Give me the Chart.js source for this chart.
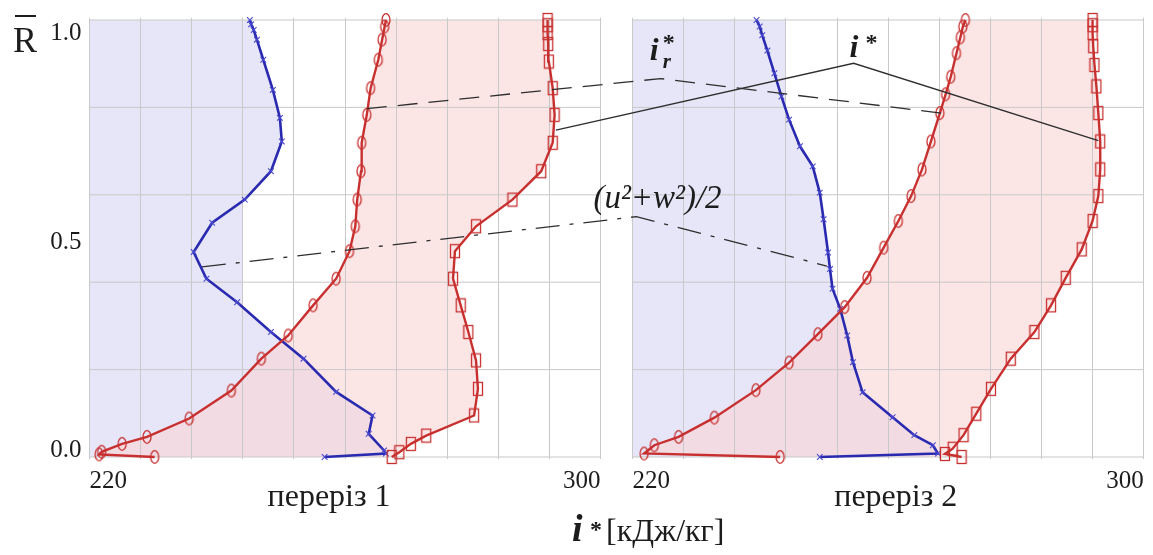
<!DOCTYPE html>
<html>
<head>
<meta charset="utf-8">
<script src="https://cdn.jsdelivr.net/npm/chart.js@4.4.1/dist/chart.umd.min.js"></script>
<style>
  html, body { margin: 0; padding: 0; background: #fff; }
</style>
</head>
<body>
<canvas id="chart" width="1153" height="555"></canvas>
<script>
// Section 2 is drawn on the same x axis, shifted by this many units
const panelOffset = 85;

// переріз 1 : [i*, R]
const kin1 = [[256.8,0],[266.4,0.008],[266.1,0.015],[263.7,0.053],[264.3,0.095],[258.6,0.149],[253.5,0.225],[248.4,0.286],[243.1,0.354],[238.3,0.408],[236.3,0.469],[239.2,0.536],[244.3,0.589],[248.4,0.654],[250.1,0.722],[249.8,0.776],[248.7,0.84],[247.2,0.909],[246.2,0.955],[245.7,0.977],[245.3,0.99],[245.1,1.0]];
const irel1 = [[230.2,0],[221.5,0.006],[221.9,0.012],[225.1,0.030],[229.0,0.046],[235.6,0.088],[242.2,0.152],[246.9,0.225],[251.1,0.278],[255.0,0.347],[258.6,0.408],[260.7,0.471],[261.6,0.528],[261.9,0.589],[262.5,0.654],[262.6,0.719],[263.4,0.783],[264.0,0.844],[265.2,0.909],[265.8,0.955],[266.2,0.985],[266.4,1.0]];
const itot1 = [[267.3,0],[268.5,0.011],[270.3,0.030],[272.7,0.049],[280.2,0.095],[280.8,0.156],[280.5,0.221],[279.3,0.286],[278.1,0.347],[276.9,0.408],[277.2,0.471],[280.5,0.528],[286.2,0.589],[290.7,0.654],[292.5,0.719],[292.8,0.783],[292.5,0.844],[291.9,0.905],[291.8,0.945],[291.7,0.97],[291.7,0.988],[291.7,1.0]];

// переріз 2 : [i*, R]
const kin2 = [[249.3,0],[267.8,0.008],[267.0,0.027],[264.1,0.05],[260.7,0.091],[256.0,0.148],[254.5,0.217],[253.6,0.278],[252.5,0.339],[251.3,0.385],[250.9,0.43],[250.6,0.468],[249.9,0.544],[249.3,0.605],[248.2,0.665],[246.2,0.711],[244.5,0.772],[243.3,0.825],[242.2,0.878],[241.1,0.93],[240.3,0.965],[239.9,0.985],[239.4,1.0]];
const irel2 = [[243.1,0],[221.8,0.008],[223.4,0.027],[227.2,0.046],[232.8,0.090],[239.3,0.153],[244.5,0.216],[249.0,0.281],[253.2,0.343],[256.7,0.41],[259.3,0.479],[261.6,0.54],[263.6,0.597],[265.3,0.658],[266.7,0.722],[268.1,0.787],[269.0,0.83],[269.8,0.87],[270.7,0.924],[271.3,0.96],[271.7,0.985],[272.1,1.0]];
const itot2 = [[271.5,0],[268.9,0.007],[270.1,0.019],[271.8,0.05],[273.8,0.099],[276.1,0.156],[279.2,0.225],[282.9,0.286],[285.5,0.347],[287.8,0.41],[290.3,0.475],[292.0,0.54],[292.9,0.597],[293.2,0.658],[293.2,0.722],[292.9,0.787],[292.6,0.848],[292.3,0.897],[292.1,0.94],[292.0,0.97],[292.0,0.988],[292.0,1.0]];

// shaded band edge (the blue zone reaches at least this far)
const bandEdge = 244;

// leader lines from the curve names: [section, i*, R]
const leadItot = [[1,293.0,0.748],[2,254.6,0.901],[2,292.9,0.724]];
const leadIrel = [[1,263.4,0.797],[2,224.4,0.866],[2,268.3,0.787]];
const leadKin  = [[1,237.6,0.435],[2,220.6,0.55],[2,250.4,0.437]];

// axes
const xGrid = [220,228,236,244,252,260,268,276,284,292,300];
const xTickLabels = ['220','300'];
const yGrid = [0,0.2,0.4,0.6,0.8,1.0];
const yTickValues = [0,0.5,1.0];
const yTickLabels = ['0.0','0.5','1.0'];
const sectionNames = ['переріз 1','переріз 2'];
const sectionNameAt = [257.5, 261.2];

// plot frame in the picture
const plotLeft = 89.5, plotRight = 1145, plotTop = 20, plotBottom = 457;
const xMin = 220, xMax = 300 + panelOffset;
const pxX = (plotRight - plotLeft) / (xMax - xMin);
const pxY = plotBottom - plotTop;
const ink = '#1c1c1c';
const serif = '"Liberation Serif", "Times New Roman", serif';
const blue = '#2a2ab0', red = '#c83030';
const lavender = '#e6e6f8';
const gridGray = '#c9c9c9';

function pts(arr, sec) {
  return arr.map(([x, y]) => ({x: sec === 2 ? x + panelOffset : x, y: y}));
}
function leadPts(arr) {
  return arr.map(([sec, x, y]) => ({x: sec === 2 ? x + panelOffset : x, y: y}));
}

function makeMarker(kind, color) {
  const c = document.createElement('canvas');
  c.width = 12; c.height = 16;
  const g = c.getContext('2d');
  g.strokeStyle = color;
  g.lineWidth = 1.3;
  if (kind === 'oval') {
    g.beginPath();
    g.ellipse(6, 8, 4, 6.3, 0, 0, Math.PI * 2);
    g.stroke();
  } else {
    g.strokeRect(1.5, 1.5, 9, 13);
  }
  return c;
}
const ovalMark = makeMarker('oval', red);
const boxMark = makeMarker('box', red);

const common = { showLine: true, indexAxis: 'y', clip: false, pointHoverRadius: 0 };

function kinSet(data, base) {
  return Object.assign({}, common, {
    data: data, order: 4,
    borderColor: blue, borderWidth: 2.6,
    pointStyle: 'crossRot', pointRadius: 4, pointBorderWidth: 1.1, pointBorderColor: '#4a4ad0',
    backgroundColor: lavender,
    fill: {value: base}
  });
}
function bandSet(off) {
  return Object.assign({}, common, {
    data: [{x: bandEdge + off, y: 0}, {x: bandEdge + off, y: 1}],
    order: 8, borderColor: 'rgba(0,0,0,0)', borderWidth: 0, pointRadius: 0,
    backgroundColor: lavender, fill: {value: 220 + off}
  });
}
function irelSet(data) {
  return Object.assign({}, common, {
    data: data, order: 3,
    borderColor: red, borderWidth: 2.4,
    pointStyle: ovalMark, pointRadius: 5,
    backgroundColor: 'rgba(250,212,212,0.6)',
    fill: '+1'
  });
}
function itotSet(data) {
  return Object.assign({}, common, {
    data: data, order: 3,
    borderColor: red, borderWidth: 2.4,
    pointStyle: boxMark, pointRadius: 5,
    fill: false
  });
}
function leadSet(data, dash) {
  return Object.assign({}, common, {
    data: data, order: 1,
    borderColor: '#2e2e2e', borderWidth: 1.3, borderDash: dash,
    pointRadius: 0, fill: false
  });
}

// horizontal grid, one run per section so nothing crosses the gap
const hGrid = [];
[0, panelOffset].forEach(off => {
  yGrid.forEach(v => {
    hGrid.push({x: 220 + off, y: v}, {x: 300 + off, y: v}, {x: null, y: null});
  });
});
const hGridSet = Object.assign({}, common, {
  data: hGrid, order: 9, borderColor: gridGray, borderWidth: 1,
  pointRadius: 0, fill: false, spanGaps: false
});

const labelPlugin = {
  id: 'labels',
  afterDraw(chart) {
    const ctx = chart.ctx;
    const xs = chart.scales.x, ys = chart.scales.y;
    const top = ys.getPixelForValue(1), bottom = ys.getPixelForValue(0);
    ctx.save();
    ctx.fillStyle = ink;

    // R axis
    ctx.font = '25px ' + serif;
    ctx.textAlign = 'right';
    ctx.textBaseline = 'middle';
    yTickValues.forEach((v, i) => {
      const py = Math.min(Math.max(ys.getPixelForValue(v) + 4, top + 13), bottom - 7);
      ctx.fillText(yTickLabels[i], xs.getPixelForValue(220) - 8, py);
    });
    ctx.textAlign = 'left';
    ctx.textBaseline = 'alphabetic';
    ctx.font = '36px ' + serif;
    ctx.fillText('R', 13, 52);
    ctx.fillRect(15, 15, 21, 2);

    // section edges and names
    [0, panelOffset].forEach((off, k) => {
      ctx.font = '25px ' + serif;
      ctx.textAlign = 'left';
      ctx.fillText(xTickLabels[0], xs.getPixelForValue(220 + off), 488);
      ctx.textAlign = 'right';
      ctx.fillText(xTickLabels[1], xs.getPixelForValue(300 + off), 488);
      ctx.textAlign = 'center';
      ctx.font = '32px ' + serif;
      ctx.fillText(sectionNames[k], xs.getPixelForValue(sectionNameAt[k] + off), 506);
    });

    // axis name
    ctx.textAlign = 'left';
    ctx.font = 'bold italic 38px ' + serif;
    ctx.fillText('i', 572, 541);
    ctx.font = 'bold 24px ' + serif;
    ctx.fillText('*', 590, 537);
    ctx.font = '32px ' + serif;
    ctx.fillText('[кДж/кг]', 606, 541);

    // curve names at the leader peaks
    const pk = (arr) => ({
      x: xs.getPixelForValue(arr[1][1] + (arr[1][0] === 2 ? panelOffset : 0)),
      y: ys.getPixelForValue(arr[1][2])
    });
    const p = pk(leadItot);
    ctx.font = 'bold italic 32px ' + serif;
    ctx.fillText('i', p.x - 4, p.y - 6);
    ctx.font = 'bold 24px ' + serif;
    ctx.fillText('*', p.x + 12, p.y - 13);

    const q = pk(leadIrel);
    ctx.font = 'bold italic 32px ' + serif;
    ctx.fillText('i', q.x - 11, q.y - 19);
    ctx.font = 'bold italic 21px ' + serif;
    ctx.fillText('r', q.x + 2, q.y - 11);
    ctx.font = 'bold 24px ' + serif;
    ctx.fillText('*', q.x + 2, q.y - 29);

    const kk = pk(leadKin);
    ctx.font = 'italic 33px ' + serif;
    ctx.fillText('(u²+w²)/2', kk.x - 43, kk.y - 9);
    ctx.restore();
  }
};

new Chart(document.getElementById('chart').getContext('2d'), {
  type: 'scatter',
  data: {
    datasets: [
      hGridSet,
      bandSet(0),
      bandSet(panelOffset),
      kinSet(pts(kin1, 1), 220),
      irelSet(pts(irel1, 1)),
      itotSet(pts(itot1, 1)),
      kinSet(pts(kin2, 2), 220 + panelOffset),
      irelSet(pts(irel2, 2)),
      itotSet(pts(itot2, 2)),
      leadSet(leadPts(leadItot), []),
      leadSet(leadPts(leadIrel), [20, 11]),
      leadSet(leadPts(leadKin), [24, 10, 4, 10])
    ]
  },
  options: {
    responsive: false,
    animation: false,
    devicePixelRatio: 1,
    indexAxis: 'y',
    layout: {
      padding: {
        left: plotLeft - 0.3 * pxX,
        right: 1153 - (plotRight + 0.3 * pxX),
        top: plotTop - 0.005 * pxY,
        bottom: 555 - (plotBottom + 0.005 * pxY)
      }
    },
    plugins: {
      legend: { display: false },
      tooltip: { enabled: false },
      // shading goes under the grid
      filler: { drawTime: 'beforeDraw' }
    },
    scales: {
      x: {
        type: 'linear',
        min: xMin - 0.3, max: xMax + 0.3,
        ticks: { display: false },
        border: { display: false },
        grid: { color: gridGray, lineWidth: 1, drawTicks: false },
        afterBuildTicks: (s) => {
          s.ticks = xGrid.concat(xGrid.map(v => v + panelOffset)).map(v => ({value: v}));
        }
      },
      y: {
        type: 'linear',
        min: -0.005, max: 1.005,
        ticks: { display: false },
        border: { display: false },
        grid: { display: false, drawTicks: false }
      }
    }
  },
  plugins: [labelPlugin]
});
</script>
</body>
</html>
